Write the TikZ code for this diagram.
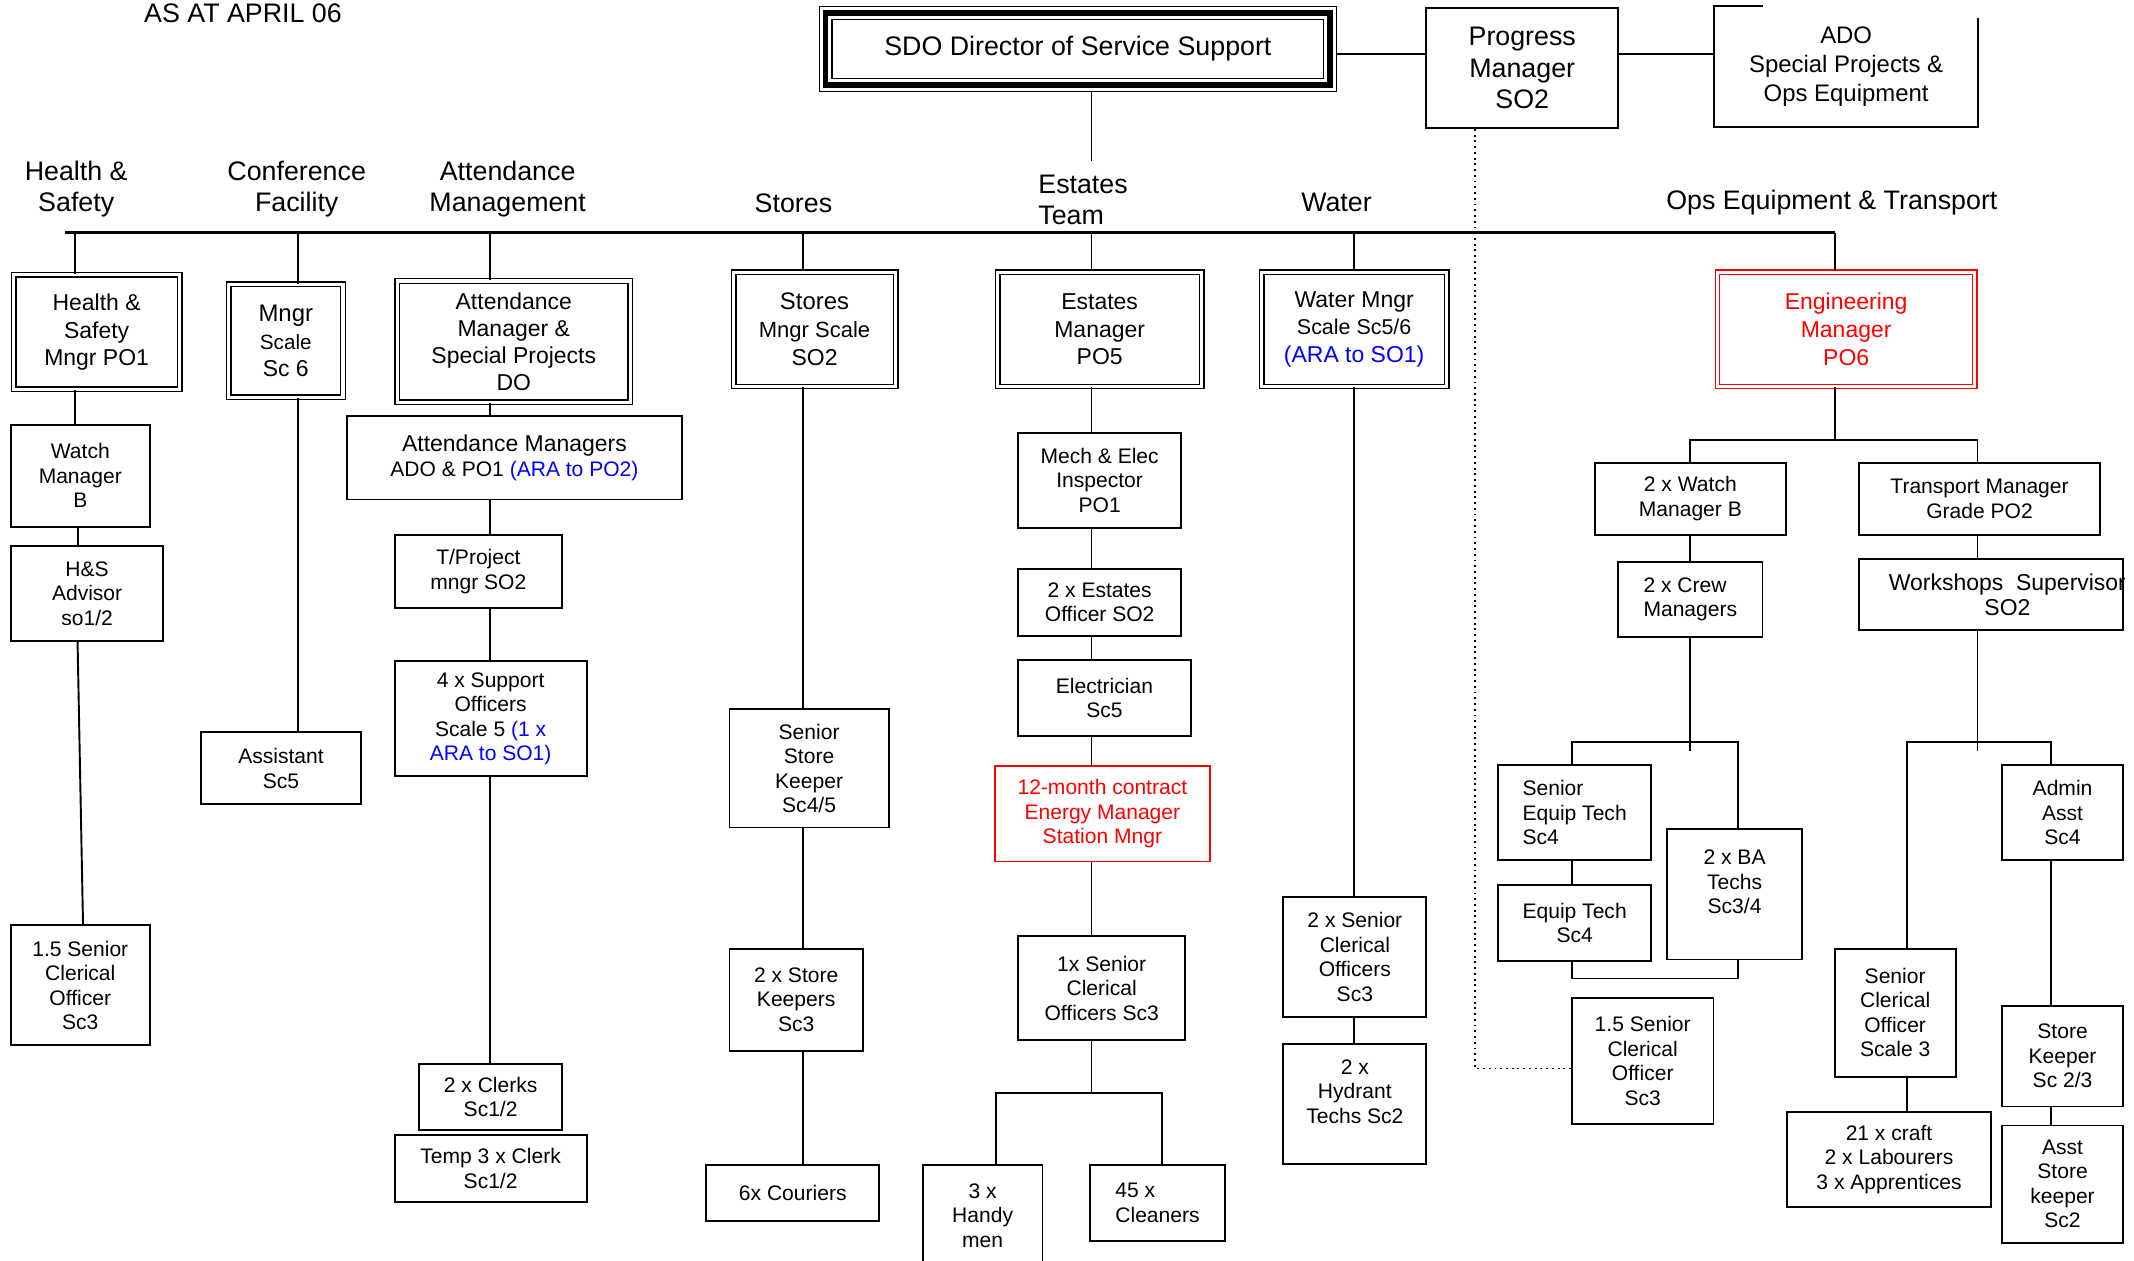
\documentclass[tikz,border=0pt]{standalone}
\usepackage{fontspec}
\setmainfont{Liberation Sans}
\usepackage{tikz}

\tikzset{
  unit/.style={draw, line width=1pt, align=center, inner sep=1pt, font=\fontsize{11}{12.8}\selectfont},
  mgr/.style={draw, double, double distance=1.6pt, line width=0.75pt, align=center, inner sep=1pt, font=\fontsize{12}{14.5}\selectfont},
  head/.style={align=center, font=\fontsize{14}{16}\selectfont},
  link/.style={line width=1pt},
  bus/.style={line width=1.3pt}
}

\begin{document}
\begin{tikzpicture}[x=0.025cm, y=-0.025cm]

\useasboundingbox (0,0) rectangle (1568,926);

\node[head, anchor=west] (asat) at (101,10) {AS AT APRIL 06};

  \node[draw, line width=0.7pt, minimum width=9.5cm, minimum height=1.55cm, font=\fontsize{14}{16}\selectfont] (sdo) at (792,36) {SDO Director of Service Support};
  \draw[line width=3pt] ([shift={(3.6pt,-3.6pt)}]sdo.north west) rectangle ([shift={(-3.6pt,3.6pt)}]sdo.south east);
  \draw[line width=0.7pt] ([shift={(7pt,-7pt)}]sdo.north west) rectangle ([shift={(-7pt,7pt)}]sdo.south east);
  \node[unit, minimum width=3.525cm, minimum height=2.2cm, font=\fontsize{14}{16.3}\selectfont] (prog) at (1118.5,50) {Progress\\Manager\\SO2};
  \node[align=center, minimum width=4.825cm, minimum height=2.2cm, font=\fontsize{12.5}{15}\selectfont] (ado) at (1356.5,49) {ADO\\Special Projects \&\\Ops Equipment};
  \draw[link] ([xshift=0.9cm]ado.north west) -- (ado.north west) -- (ado.south west) -- (ado.south east) -- ([yshift=-0.22cm]ado.north east);

\coordinate (topLine) at (990,40);
\coordinate (estTop) at (802,118);
\coordinate (busL) at (48,171);
\coordinate (busR) at (1348,171);
\coordinate (hsX) at (55,0);
\coordinate (hsX2) at (57,0);
\coordinate (hsX3) at (61,0);
\coordinate (confX) at (219,0);
\coordinate (attX) at (360,0);
\coordinate (storeX) at (590,0);
\coordinate (estX) at (802,0);
\coordinate (waterX) at (995,0);
\coordinate (opsX) at (1348,0);
\coordinate (dotX) at (1084,0);

  \draw[link] (sdo.south -| estX) -- (estTop);
  \draw[link] (sdo.east |- topLine) -- (prog.west |- topLine);
  \draw[link] (prog.east |- topLine) -- (ado.west |- topLine);

\node[head] (hsHead) at (56,139) {Health \&\\Safety};
\node[head] (confHead) at (218,139) {Conference\\Facility};
\node[head] (attHead) at (373,139) {Attendance\\Management};
\node[head] (storeHead) at (583,149) {Stores};
\node[head, align=left, anchor=west] (estHead) at (758,147) {Estates\\Team};
\node[head] (waterHead) at (982,149) {Water};
\node[head] (opsHead) at (1346,149) {Ops Equipment \& Transport};

  \draw[bus] (busL) -- (busR);

\node[mgr, minimum width=3.05cm, minimum height=2.1cm] (hsMgr) at (71,244) {Health \&\\Safety\\Mngr PO1};
\node[mgr, minimum width=2.1cm, minimum height=2.075cm] (confMgr) at (210,250.5) {\fontsize{12.5}{14}\selectfont Mngr\\\fontsize{10.8}{13}\selectfont Scale\\Sc 6};
\node[mgr, minimum width=4.275cm, minimum height=2.225cm, font=\fontsize{12}{14.2}\selectfont] (attMgr) at (377.5,251) {Attendance\\Manager \&\\Special Projects\\DO};
\node[mgr, minimum width=2.975cm, minimum height=2.1cm] (storeMgr) at (598.5,242) {\fontsize{12.5}{14}\selectfont Stores\\\fontsize{11.5}{13}\selectfont Mngr Scale\\SO2};
\node[mgr, minimum width=3.75cm, minimum height=2.1cm] (estMgr) at (808,242) {Estates\\Manager\\PO5};
\node[mgr, minimum width=3.4cm, minimum height=2.1cm] (waterMgr) at (995,242) {Water Mngr\\\fontsize{11.2}{13.5}\selectfont Scale Sc5/6\\\textcolor{blue}{(ARA to SO1)}};
\node[mgr, draw=red, text=red, minimum width=4.725cm, minimum height=2.1cm] (engMgr) at (1356.5,242) {Engineering\\Manager\\PO6};

  \draw[link] (busL -| hsX) -- (hsMgr.north -| hsX);
  \draw[link] (busL -| confX) -- (confMgr.north -| confX);
  \draw[link] (busL -| attX) -- (attMgr.north -| attX);
  \draw[link] (busL -| storeX) -- (storeMgr.north -| storeX);
  \draw[link] (busL -| estX) -- (estMgr.north -| estX);
  \draw[link] (busL -| waterX) -- (waterMgr.north -| waterX);
  \draw[link] (busR) -- (engMgr.north -| opsX);

\node[unit, minimum width=2.55cm, minimum height=1.875cm] (hsWatch) at (59,349.5) {Watch\\Manager\\B};
\node[unit, minimum width=2.8cm, minimum height=1.75cm] (hsAdv) at (64,436) {H\&S\\Advisor\\so1/2};
\node[unit, minimum width=2.55cm, minimum height=2.2cm] (hsClerk) at (59,724) {1.5 Senior\\Clerical\\Officer\\Sc3};

  \draw[link] (hsMgr.south -| hsX) -- (hsWatch.north -| hsX);
  \draw[link] (hsWatch.south -| hsX2) -- (hsAdv.north -| hsX2);
  \draw[link] (hsAdv.south -| hsX2) -- (hsClerk.north -| hsX3);

\node[unit, minimum width=2.925cm, minimum height=1.325cm] (confAsst) at (206.5,564.5) {Assistant\\Sc5};

  \draw[link] (confMgr.south -| confX) -- (confAsst.north -| confX);

\node[unit, minimum width=6.15cm, minimum height=1.525cm] (attMgrs) at (378,336.5) {{\fontsize{12}{13}\selectfont Attendance Managers}\\ADO \& PO1 \textcolor{blue}{(ARA to PO2)}};
\node[unit, minimum width=3.075cm, minimum height=1.35cm] (attProj) at (351.5,420) {T/Project\\mngr SO2};
\node[unit, minimum width=3.525cm, minimum height=2.1cm] (attSupp) at (360.5,528) {4 x Support\\Officers\\Scale 5 \textcolor{blue}{(1 x}\\\textcolor{blue}{ARA to SO1)}};
\node[unit, minimum width=2.625cm, minimum height=1.2cm] (attClerks) at (360.5,806) {2 x Clerks\\Sc1/2};
\node[unit, minimum width=3.525cm, minimum height=1.225cm] (attTemp) at (360.5,858.5) {Temp 3 x Clerk\\Sc1/2};

  \foreach \a/\b in {attMgr/attMgrs, attMgrs/attProj, attProj/attSupp, attSupp/attClerks}
    \draw[link] (\a.south -| attX) -- (\b.north -| attX);

\node[unit, minimum width=2.925cm, minimum height=2.175cm] (storeSSK) at (594.5,564.5) {Senior\\Store\\Keeper\\Sc4/5};
\node[unit, minimum width=2.45cm, minimum height=1.875cm] (storeKeep) at (585,734.5) {2 x Store\\Keepers\\Sc3};
\node[unit, minimum width=3.175cm, minimum height=1.025cm] (storeCour) at (582.5,876.5) {6x Couriers};

  \foreach \a/\b in {storeMgr/storeSSK, storeSSK/storeKeep, storeKeep/storeCour}
    \draw[link] (\a.south -| storeX) -- (\b.north -| storeX);

\node[unit, minimum width=3cm, minimum height=1.75cm] (estInsp) at (808,353) {Mech \& Elec\\Inspector\\PO1};
\node[unit, minimum width=3cm, minimum height=1.225cm] (estOff) at (808,442.5) {2 x Estates\\Officer SO2};
\node[unit, minimum width=3.175cm, minimum height=1.4cm] (estElec) at (811.5,513) {Electrician\\Sc5};
\node[unit, draw=red, text=red, minimum width=3.95cm, minimum height=1.75cm] (estEnergy) at (810,598) {12-month contract\\Energy Manager\\Station Mngr};
\node[unit, minimum width=3.075cm, minimum height=1.9cm] (estClerk) at (809.5,726) {1x Senior\\Clerical\\Officers Sc3};
\node[unit, minimum width=2.2cm, minimum height=1.85cm] (estHandy) at (722,893) {3 x\\Handy\\men};
\node[unit, align=left, minimum width=2.475cm, minimum height=1.4cm] (estClean) at (850.5,884) {45 x\\Cleaners};

\coordinate (estBusL) at (732,803);
\coordinate (estBusR) at (854,803);

  \foreach \a/\b in {estMgr/estInsp, estInsp/estOff, estOff/estElec, estElec/estEnergy, estEnergy/estClerk}
    \draw[link] (\a.south -| estX) -- (\b.north -| estX);
  \draw[link] (estClerk.south -| estX) -- (estX |- estBusL);
  \draw[link] (estHandy.north -| estBusL) -- (estBusL) -- (estBusR) -- (estClean.north -| estBusR);

\node[unit, minimum width=2.625cm, minimum height=2.2cm] (waterClerk) at (995.5,703) {2 x Senior\\Clerical\\Officers\\Sc3};
\node[unit, minimum width=2.625cm, minimum height=2.2cm] (waterHyd) at (995.5,811) {2 x\\Hydrant\\Techs Sc2\\~};

  \draw[link] (waterMgr.south -| waterX) -- (waterClerk.north -| waterX);
  \draw[link] (waterClerk.south -| waterX) -- (waterHyd.north -| waterX);

\node[unit, minimum width=3.5cm, minimum height=1.325cm] (opsWatch) at (1242,366.5) {2 x Watch\\Manager B};
\node[unit, minimum width=4.425cm, minimum height=1.325cm] (opsTrans) at (1454.5,366.5) {Transport Manager\\Grade PO2};
\node[unit, align=left, minimum width=2.65cm, minimum height=1.375cm] (opsCrew) at (1242,440.5) {2 x Crew\\Managers};
\node[unit, align=left, minimum width=2.8cm, minimum height=1.75cm] (opsSET) at (1157,597) {Senior\\Equip Tech\\Sc4};
\node[unit, minimum width=2.8cm, minimum height=1.4cm] (opsET) at (1157,678) {Equip Tech\\Sc4};
\node[unit, minimum width=2.475cm, minimum height=2.4cm] (opsBA) at (1274.5,657) {2 x BA\\Techs\\Sc3/4\\~};
\node[unit, minimum width=2.6cm, minimum height=2.325cm] (opsSCO15) at (1207,779.5) {1.5 Senior\\Clerical\\Officer\\Sc3};
\node[unit, minimum width=4.85cm, minimum height=1.3cm] (opsWork) at (1463,437) {};
\begin{scope}
  \clip (opsWork.south west) rectangle (opsWork.north east);
  \node[align=center, inner sep=0pt, font=\fontsize{12}{12.8}\selectfont] (opsWorkText) at (1475,437) {Workshops\ \ Supervisor\\SO2};
\end{scope}
\node[unit, minimum width=2.225cm, minimum height=2.35cm] (opsSCO) at (1392.5,744) {Senior\\Clerical\\Officer\\Scale 3};
\node[unit, minimum width=3.75cm, minimum height=1.75cm] (opsCraft) at (1388,852) {21 x craft\\2 x Labourers\\3 x Apprentices};
\node[unit, minimum width=2.225cm, minimum height=1.75cm] (opsAdmin) at (1515.5,597) {Admin\\Asst\\Sc4};
\node[unit, minimum width=2.225cm, minimum height=1.85cm] (opsStore) at (1515.5,776) {Store\\Keeper\\Sc 2/3};
\node[unit, minimum width=2.225cm, minimum height=2.15cm] (opsAsst) at (1515.5,870) {Asst\\Store\\keeper\\Sc2};

\coordinate (engL) at (1242,323);
\coordinate (engR) at (1453,323);
\coordinate (crewL) at (1155,545);
\coordinate (crewR) at (1277,545);
\coordinate (crewStub) at (1242,552);
\coordinate (crewBot) at (1277,719);
\coordinate (workL) at (1401,545);
\coordinate (workR) at (1507,545);
\coordinate (workStub) at (1453,552);

  \draw[link] (engMgr.south -| opsX) -- (opsX |- engL);
  \draw[link] (opsWatch.north -| engL) -- (engL) -- (engR) -- (opsTrans.north -| engR);
  \draw[link] (opsWatch.south -| engL) -- (opsCrew.north -| engL);
  \draw[link] (opsCrew.south -| crewStub) -- (crewStub);
  \draw[link] (opsSET.north -| crewL) -- (crewL) -- (crewR) -- (opsBA.north -| crewR);
  \draw[link] (opsSET.south -| crewL) -- (opsET.north -| crewL);
  \draw[link] (opsET.south -| crewL) |- (crewBot) -- (opsBA.south -| crewBot);
  \draw[link] (opsTrans.south -| engR) -- (opsWork.north -| engR);
  \draw[link] (opsWork.south -| workStub) -- (workStub);
  \draw[link] (opsSCO.north -| workL) -- (workL) -- (workR) -- (opsAdmin.north -| workR);
  \draw[link] (opsSCO.south -| workL) -- (opsCraft.north -| workL);
  \draw[link] (opsAdmin.south -| workR) -- (opsStore.north -| workR);
  \draw[link] (opsStore.south -| workR) -- (opsAsst.north -| workR);
  \draw[link, dotted] (prog.south -| dotX) |- ([yshift=-0.14cm]opsSCO15.west);

\end{tikzpicture}
\end{document}
